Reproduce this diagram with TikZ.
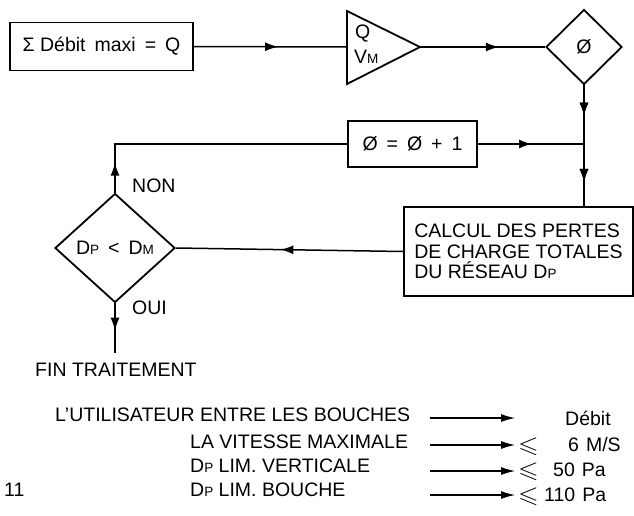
\documentclass[tikz,border=0pt]{standalone}
\usepackage{fontspec}
\usepackage{amssymb}
\usepackage{graphicx}
\setmainfont{Liberation Sans}
\usetikzlibrary{shapes.geometric,arrows.meta,decorations.markings}
\newcommand\sk[1]{{\fontsize{13.5}{13.5}\selectfont #1}}
\newcommand\gap{\hspace{9pt}}
\newcommand\leqs{\scalebox{1.15}[1]{\fontsize{23}{23}\selectfont$\leqslant$}}
\tikzset{
  boxstyle/.style={draw, line width=1.8pt, inner sep=0pt, font=\fontsize{19.5}{20.7}\selectfont},
  dia/.style={draw, diamond, line width=1.8pt, inner sep=0pt, font=\fontsize{19.5}{20.7}\selectfont},
  lbl/.style={inner sep=0pt, font=\fontsize{19.5}{20.7}\selectfont},
  conn/.style={line width=1.5pt},
  thin/.style={line width=1.1pt, -{Latex[length=14pt,width=8pt]}},
  midarrow/.style={postaction={decorate}, decoration={markings, mark=at position #1 with {\arrow{Latex[length=13pt,width=9pt]}}}}
}
\begin{document}
\begin{tikzpicture}[x=1pt,y=-1pt]
\useasboundingbox (0,0) rectangle (634,515);
% top row
\node[boxstyle, minimum width=183pt, minimum height=48pt] (b1) at (101.5,46.5) {Σ Débit\gap maxi\gap =\gap Q};
\coordinate (triW) at (347,47);
\coordinate (triE) at (420,47);
\draw[line width=1.8pt] (347,11) -- (triE) -- (347,84) -- cycle;
\node[lbl, anchor=west] (tq) at (355,34) {Q};
\node[lbl, anchor=west] (tv) at (354,57) {V\sk{M}};
\node[dia, minimum width=76pt, minimum height=75pt] (d1) at (584,47) {Ø};
% middle
\node[boxstyle, minimum width=129pt, minimum height=46pt] (b2) at (412.5,144) {Ø\gap =\gap Ø\gap +\gap 1};
\node[boxstyle, minimum width=229pt, minimum height=89pt, align=left] (b3) at (518.5,251.5) {CALCUL DES PERTES\\DE CHARGE TOTALES\\DU RÉSEAU D\sk{P}};
\coordinate (jn) at (584,144);
\node[dia, minimum width=120pt, minimum height=109pt] (d2) at (115,248) {D\sk{P}\hspace{9pt}<\hspace{9pt}D\sk{M}};
\coordinate (up) at (115,144);
\coordinate (down) at (115,353);
\node[lbl, anchor=west] (non) at (132,186) {NON};
\node[lbl, anchor=west] (oui) at (132,308) {OUI};
\node[lbl, anchor=west] (fin) at (35,370) {FIN TRAITEMENT};
% connectors
\draw[conn, midarrow=0.55] (b1.east) -- (triW);
\draw[conn, midarrow=0.63] (triE) -- (d1.west);
\draw[conn, midarrow=0.25, midarrow=0.8] (d1.south) -- (b3.north -| d1.south);
\draw[conn, midarrow=0.51] (b2.east) -- (jn);
\draw[conn, midarrow=0.54] (b3.west) -- (d2.east);
\draw[conn, midarrow=30pt] (d2.north) -- (up) -- (b2.west);
\draw[conn, midarrow=0.55] (d2.south) -- (down);
% legend
\node[lbl, anchor=west] (l1) at (55,415) {L’UTILISATEUR ENTRE LES BOUCHES};
\node[lbl, anchor=west] (l2) at (190,442) {LA VITESSE MAXIMALE};
\node[lbl, anchor=west] (l3) at (190,466) {D\sk{P} LIM. VERTICALE};
\node[lbl, anchor=west] (l4) at (190,490) {D\sk{P} LIM. BOUCHE};
\node[lbl, anchor=west] (n11) at (4,490) {11};
\coordinate (a1s) at (430,418); \coordinate (a1e) at (515,418);
\coordinate (a2s) at (430,445); \coordinate (a2e) at (515,445);
\coordinate (a3s) at (430,471); \coordinate (a3e) at (515,471);
\coordinate (a4s) at (430,495); \coordinate (a4e) at (515,495);
\draw[thin] (a1s) -- (a1e);
\draw[thin] (a2s) -- (a2e);
\draw[thin] (a3s) -- (a3e);
\draw[thin] (a4s) -- (a4e);
\node[lbl, anchor=west] (r1) at (565,418) {Débit};
\node[lbl, anchor=west] (le2) at (518,447) {\leqs};
\node[lbl, anchor=west] (r2) at (568,445) {6\hspace{7pt}M/S};
\node[lbl, anchor=west] (le3) at (518,472) {\leqs};
\node[lbl, anchor=west] (r3) at (553,470) {50\hspace{7pt}Pa};
\node[lbl, anchor=west] (le4) at (518,497) {\leqs};
\node[lbl, anchor=west] (r4) at (544,495) {110\hspace{7pt}Pa};
\end{tikzpicture}
\end{document}
